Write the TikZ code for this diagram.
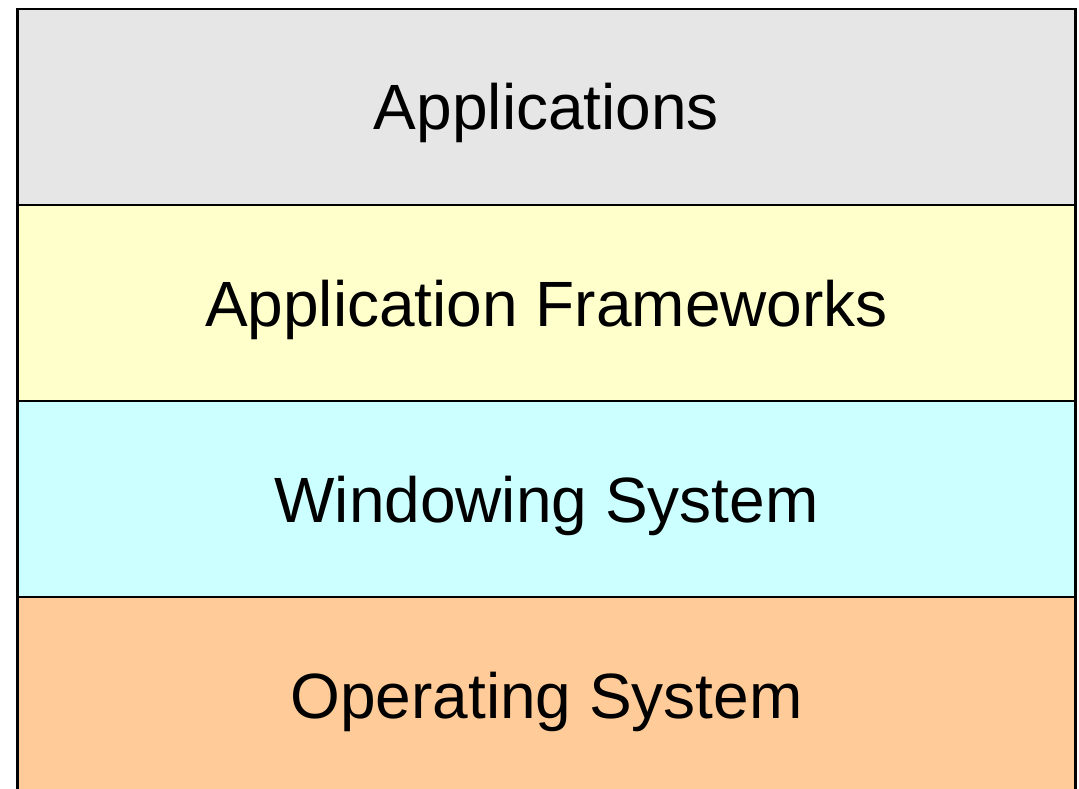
\documentclass[tikz,border=0pt]{standalone}
\usepackage{fontspec}
\setmainfont{Liberation Sans}
\usetikzlibrary{positioning}

\definecolor{appgray}{HTML}{E6E6E6}
\definecolor{fwyellow}{HTML}{FFFFCC}
\definecolor{wincyan}{HTML}{CCFFFF}
\definecolor{osorange}{HTML}{FFCC99}

\begin{document}
\begin{tikzpicture}[x=1pt, y=-1pt,
		layer/.style={draw, line width=2.5pt, minimum width=1058pt, minimum height=196pt,
			inner sep=0pt, outer sep=0pt, text height=46pt, text depth=0pt,
			font=\fontsize{64}{72}\selectfont}]
			\useasboundingbox (0,0) rectangle (1079,789);
			% stack of layers, top to bottom
			\node[layer, fill=appgray] (apps) at (546.5,107) {Applications};
			\node[layer, fill=fwyellow, below=0pt of apps] (frameworks) {Application Frameworks};
			\node[layer, fill=wincyan, below=0pt of frameworks] (windowing) {Windowing System};
			\node[layer, fill=osorange, below=0pt of windowing] (os) {Operating System};
		\end{tikzpicture}
\end{document}
